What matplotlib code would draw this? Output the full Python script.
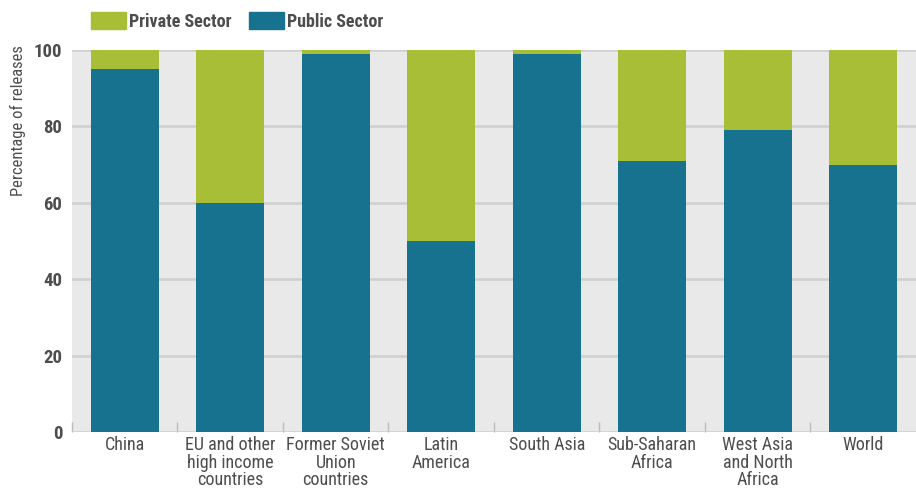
import matplotlib.pyplot as plt
import numpy as np
from matplotlib.patches import Patch

regions = ['China', 'EU and other\nhigh income\ncountries', 'Former Soviet\nUnion\ncountries',
           'Latin\nAmerica', 'South Asia', 'Sub-Saharan\nAfrica', 'West Asia\nand North\nAfrica', 'World']
public = [95, 60, 99, 50, 99, 71, 79, 70]
private = [5, 40, 1, 50, 1, 29, 21, 30]

plt.rcParams['font.family'] = ['Roboto Condensed', 'DejaVu Sans']
green = '#a8be37'
blue = '#177290'
text_col = '#4d4d4d'

fig = plt.figure(figsize=(9.16, 4.91), dpi=100)
ax = fig.add_axes([0.0786, 0.12, 0.9214, 0.778])
ax.set_facecolor('#e9e9e9')

x = np.arange(len(regions))
ax.bar(x, public, width=0.645, color=blue, zorder=3)
ax.bar(x, private, bottom=public, width=0.645, color=green, zorder=3)

ax.set_xlim(-0.5, len(regions) - 0.5)
ax.set_ylim(0, 100)
ax.set_yticks([0, 20, 40, 60, 80, 100])
ax.yaxis.grid(True, color='#cfcfcf', linewidth=1.8, zorder=1)
ax.set_axisbelow(True)
for s in ax.spines.values():
    s.set_visible(False)

ax.tick_params(axis='y', length=0, labelsize=13.5, labelcolor=text_col, pad=7)
for lbl in ax.get_yticklabels():
    lbl.set_fontweight('bold')
ax.set_xticks(x)
ax.set_xticklabels(regions, fontsize=13, color=text_col, linespacing=0.95)
ax.tick_params(axis='x', length=0, pad=3)
ax.set_xticks(np.arange(-0.5, len(regions) - 0.5), minor=True)
ax.tick_params(axis='x', which='minor', direction='in', length=7, color='#bbbbbb', width=1)

fig.text(18 / 916, 1 - 45 / 491, 'Percentage of releases', rotation=90, ha='center', va='top',
         fontsize=12, color=text_col)

handles = [Patch(color=green, label='Private Sector'), Patch(color=blue, label='Public Sector')]
leg = fig.legend(handles=handles, loc='upper left', bbox_to_anchor=(0.0917, 0.99), ncol=2,
                 frameon=False, borderaxespad=0, handlelength=1.94, handleheight=1.05,
                 handletextpad=0.17, columnspacing=0.95,
                 prop={'family': 'Roboto Condensed', 'weight': 'bold', 'size': 13})
for t in leg.get_texts():
    t.set_color(text_col)

fig.savefig('out.png', dpi=100)
